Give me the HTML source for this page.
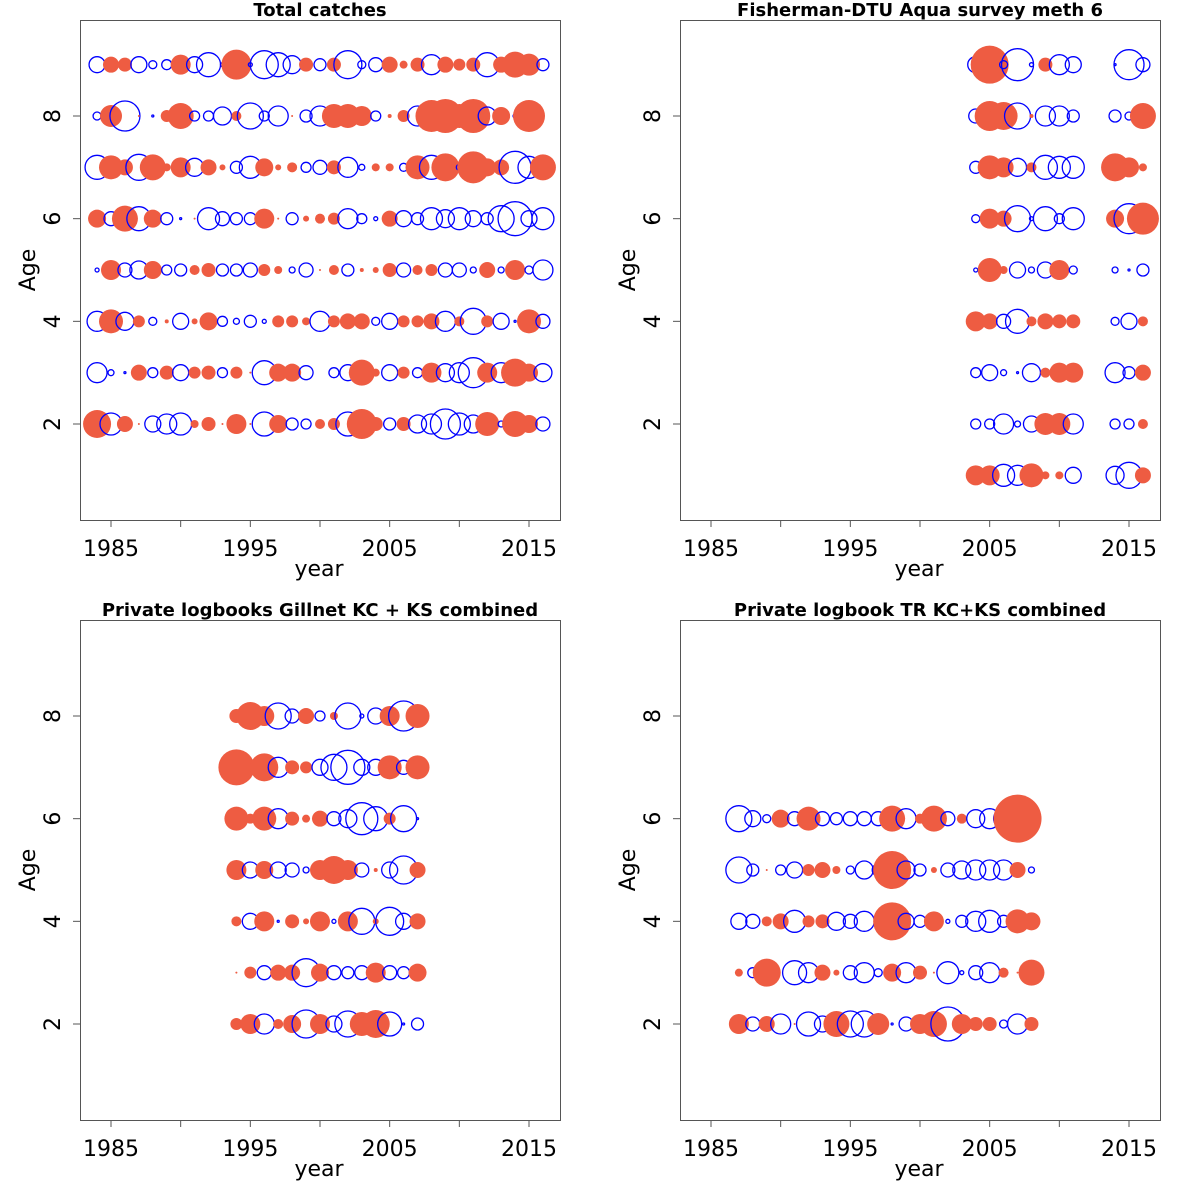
<!DOCTYPE html>
<html><head><meta charset="utf-8">
<style>
html,body{margin:0;padding:0;background:#fff;}
svg{display:block;font-family:"DejaVu Sans","Liberation Sans",sans-serif;}
</style></head>
<body>
<svg id="chart" width="1200" height="1200" viewBox="0 0 1200 1200"></svg>
<script>
// ---- data: signed residual bubble sizes (positive = filled red, negative = open blue) ----
const p1Years = [1984,1985,1986,1987,1988,1989,1990,1991,1992,1993,1994,1995,1996,1997,1998,1999,2000,2001,2002,2003,2004,2005,2006,2007,2008,2009,2010,2011,2012,2013,2014,2015,2016];
const p1Ages = [9,8,7,6,5,4,3,2];
const p1Age9 = [-8,8,7,-8,-4,-5,10,-8,-12,-2,15,-2,-14,-12,-9,7,-6,7,-14,-4,-7,8,4,7,-10,8,6,7,-12,8,13,11,-6];
const p1Age8 = [-4,11,-15,1,-1,6,13,-5,-5,-9,5,-13,-5,-10,1,-6,-10,12,12,10,-5,2,6,-10,16,17,12,17,-9,9,-2,16,0];
const p1Age7 = [-12,12,8,-13,13,4,10,-9,8,3,-6,-11,9,3,5,-5,-7,7,-10,-3,4,4,-4,12,-12,14,-3,16,9,8,-16,-11,13];
const p1Age6 = [9,-7,13,-12,9,-6,-1,1,-11,-7,-6,-6,10,1,-6,3,5,6,-10,-5,-2,8,-8,-6,-11,-9,-11,-8,-6,-13,-17,-8,-11];
const p1Age5 = [-2,10,-7,-9,9,-5,-6,5,7,-6,-6,-7,6,4,-3,-7,1,5,-6,2,3,7,-7,5,6,-7,-7,-3,8,-3,10,-4,-10];
const p1Age4 = [-10,12,-9,6,-4,2,-8,3,9,-5,-3,-6,-2,6,6,4,-10,6,8,8,-4,-8,6,6,8,-10,5,-13,6,-8,-1,12,-7];
const p1Age3 = [-10,-3,-1,8,-5,7,-8,6,7,-5,6,1,-12,9,9,-7,0,-5,-8,13,4,-8,6,-5,10,-9,-10,-15,10,-10,14,9,-9];
const p1Age2 = [14,-11,8,1,-8,-10,-11,4,7,1,10,1,-12,9,-6,-5,5,6,-12,15,7,-6,7,-9,-10,-15,-11,-9,12,-3,13,9,-7];

const p2Years = [2004,2005,2006,2007,2008,2009,2010,2011,2012,2013,2014,2015,2016];
const p2Ages = [9,8,7,6,5,4,3,2,1];
const p2Age9 = [-8,19,-4,-16,-2,7,-10,-8,0,0,-1,-15,-7];
const p2Age8 = [-7,15,14,-13,2,-10,-10,-6,0,0,-6,-4,13];
const p2Age7 = [-6,12,10,-9,5,-12,-11,-11,0,0,14,10,4];
const p2Age6 = [-4,10,8,-13,-2,-12,-5,-11,0,0,9,-15,16];
const p2Age5 = [-2,12,4,-8,-3,-8,10,-4,0,0,-3,-1,-6];
const p2Age4 = [10,8,-7,-12,5,8,7,7,0,0,-4,-8,5];
const p2Age3 = [-5,-8,-3,-1,-9,5,10,10,0,0,-10,-6,8];
const p2Age2 = [-5,-5,-10,-3,-8,11,11,-10,0,0,-5,-5,5];
const p2Age1 = [10,10,-11,-10,12,4,4,-8,0,0,-9,-13,8];

const p3Years = [1994,1995,1996,1997,1998,1999,2000,2001,2002,2003,2004,2005,2006,2007];
const p3Ages = [8,7,6,5,4,3,2];
const p3Age8 = [7,14,10,-13,-7,8,-5,4,-13,-2,-8,10,-15,12];
const p3Age7 = [18,4,14,-10,7,6,-8,-13,-17,-8,-8,12,-7,12];
const p3Age6 = [12,5,12,-10,7,4,8,-7,-9,-16,-12,6,-13,-1];
const p3Age5 = [10,-8,9,-8,-7,-3,10,14,10,-7,2,-8,-14,8];
const p3Age4 = [5,-8,10,-1,7,3,10,-2,10,-13,3,-14,-8,8];
const p3Age3 = [1,6,-7,8,8,-14,9,-7,-6,-7,10,-7,-6,9];
const p3Age2 = [6,10,-10,5,9,-14,10,-8,-13,12,14,-12,-1,-6];

const p4Years = [1987,1988,1989,1990,1991,1992,1993,1994,1995,1996,1997,1998,1999,2000,2001,2002,2003,2004,2005,2006,2007,2008];
const p4Ages = [6,5,4,3,2];
const p4Age6 = [-13,-8,-4,9,-7,12,-7,-6,-7,-7,-7,13,-10,5,13,-7,5,-9,-10,-10,24,0];
const p4Age5 = [-13,-6,1,-5,-8,6,8,4,-4,-9,-6,19,-9,-6,3,-7,-9,-10,-10,-10,8,-3];
const p4Age4 = [-8,-7,5,8,-11,6,7,-9,-7,-10,-3,19,-8,-6,10,-2,-6,-10,-11,-6,12,9];
const p4Age3 = [4,-5,14,0,-12,-10,8,3,-7,-10,-4,9,-10,7,1,-11,-2,-7,-10,5,1,13];
const p4Age2 = [10,-7,8,-10,1,-12,-8,13,-13,-13,11,-1,-7,10,13,-17,10,7,7,-4,-10,7];

const xTickYears = [1985,1990,1995,2000,2005,2010,2015];
const xTickLabels = ["1985","","1995","","2005","","2015"];
const yTickAges = [2,4,6,8];
const panelTitles = ["Total catches","Fisherman-DTU Aqua survey meth 6","Private logbooks Gillnet KC + KS combined","Private logbook TR KC+KS combined"];

const svg = document.getElementById('chart');
const NS = 'http://www.w3.org/2000/svg';
function mk(tag, attrs, parent){
  const e = document.createElementNS(NS, tag);
  for (const k in attrs) e.setAttribute(k, attrs[k]);
  (parent||svg).appendChild(e);
  return e;
}

const panels = [
  {x0:80,y0:20,years:p1Years,ages:p1Ages,rows:[p1Age9,p1Age8,p1Age7,p1Age6,p1Age5,p1Age4,p1Age3,p1Age2]},
  {x0:680,y0:20,years:p2Years,ages:p2Ages,rows:[p2Age9,p2Age8,p2Age7,p2Age6,p2Age5,p2Age4,p2Age3,p2Age2,p2Age1]},
  {x0:80,y0:620,years:p3Years,ages:p3Ages,rows:[p3Age8,p3Age7,p3Age6,p3Age5,p3Age4,p3Age3,p3Age2]},
  {x0:680,y0:620,years:p4Years,ages:p4Ages,rows:[p4Age6,p4Age5,p4Age4,p4Age3,p4Age2]}
];

panels.forEach((p, pi) => {
  const W = 480, H = 500;
  const xs = yr => p.x0 + 31 + (yr - 1985) * (418 / 30);
  const ys = a => p.y0 + 404 - (a - 2) * (308 / 6);
  const g = mk('g', {});
  
  

  const t = mk('text', {x: p.x0 + W/2, y: p.y0 - 4, 'text-anchor':'middle', 'font-size':'18', 'font-weight':'bold', fill:'#000'}, g);
  t.textContent = panelTitles[pi];
  
  

  const bg = mk('g', {}, g);
  
  
  p.rows.forEach((row, ri) => {
    const age = p.ages[ri];
    row.forEach((v, yi) => {
      if (!v) return;
      const cx = xs(p.years[yi]), cy = ys(age), r = Math.abs(v);
      const c = mk('circle', {cx, cy, r, fill: v > 0 ? '#EE5C42' : 'none', stroke: v > 0 ? 'none' : '#0000FF', 'stroke-width': v > 0 ? 0 : 1.3}, bg);
      
      
    });
  });

  const box = mk('rect', {x:p.x0+0.5, y:p.y0+0.5, width:W, height:H, fill:'none', stroke:'#555', 'stroke-width':1}, g);
  
  

  const xa = mk('g', {}, g);
  
  
  xTickYears.forEach((yr, i) => {
    const x = xs(yr);
    mk('line', {x1:x, x2:x, y1:p.y0+H, y2:p.y0+H+7, stroke:'#555', 'stroke-width':1}, xa);
    if (xTickLabels[i]) {
      const l = mk('text', {x, y:p.y0+H+36, 'text-anchor':'middle', 'font-size':'22', fill:'#000'}, xa);
      l.textContent = xTickLabels[i];
      
      
    }
  });
  const xt = mk('text', {x:p.x0+W/2 - 1, y:p.y0+H+56, 'text-anchor':'middle', 'font-size':'22', fill:'#000'}, xa);
  xt.textContent = 'year';
  
  

  const ya = mk('g', {}, g);
  
  
  yTickAges.forEach(a => {
    const y = ys(a);
    mk('line', {x1:p.x0-7, x2:p.x0, y1:y, y2:y, stroke:'#555', 'stroke-width':1}, ya);
    const l = mk('text', {x:p.x0-20, y, 'text-anchor':'middle', 'font-size':'22', fill:'#000', transform:`rotate(-90 ${p.x0-20} ${y})`}, ya);
    l.textContent = String(a);
    
    
  });
  const yx = p.x0 - 45, yy = p.y0 + 250;
  const yt = mk('text', {x:yx, y:yy, 'text-anchor':'middle', 'font-size':'22', fill:'#000', transform:`rotate(-90 ${yx} ${yy})`}, ya);
  yt.textContent = 'Age';
  
  
});
</script>
</body></html>
